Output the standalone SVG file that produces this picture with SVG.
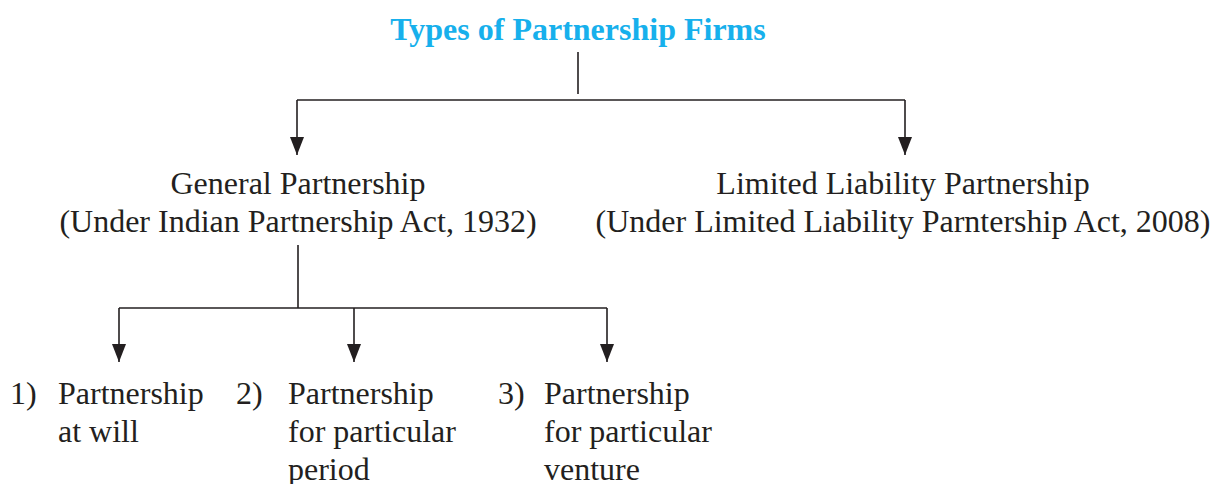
<svg xmlns="http://www.w3.org/2000/svg" width="1227" height="484" viewBox="0 0 1227 484">
<style>
.t{font-family:"Liberation Serif","Times New Roman",serif;font-size:32px;fill:#231f20}
.m{text-anchor:middle}
.title{font-family:"Liberation Serif","Times New Roman",serif;font-size:32px;font-weight:bold;fill:#17b0ec;text-anchor:middle}
.ln{stroke:#231f20;stroke-width:1.6;fill:none}
</style>
<defs>
<marker id="ah" viewBox="0 0 18 14" refX="18" refY="7" markerWidth="18" markerHeight="14" markerUnits="userSpaceOnUse" orient="auto">
<path d="M0,0 L18,7 L0,14 Z" fill="#231f20"/>
</marker>
</defs>
<rect width="1227" height="484" fill="#fff"/>
<g id="title"><text class="title" x="578" y="40">Types of Partnership Firms</text></g>
<g id="general"><text class="t m" x="298" y="194">General Partnership</text><text class="t m" x="298" y="232">(Under Indian Partnership Act, 1932)</text></g>
<g id="llp"><text class="t m" x="903" y="194">Limited Liability Partnership</text><text class="t m" x="903" y="232">(Under Limited Liability Parntership Act, 2008)</text></g>
<g id="will"><text class="t" x="10" y="404">1)</text><text class="t" x="58" y="404">Partnership</text><text class="t" x="58" y="442">at will</text></g>
<g id="period"><text class="t" x="236" y="404">2)</text><text class="t" x="288" y="404">Partnership</text><text class="t" x="288" y="442">for particular</text><text class="t" x="288" y="480">period</text></g>
<g id="venture"><text class="t" x="498" y="404">3)</text><text class="t" x="544" y="404">Partnership</text><text class="t" x="544" y="442">for particular</text><text class="t" x="544" y="480">venture</text></g>
<g id="connectors">
<path class="ln" d="M578,52 V94"/>
<path class="ln" d="M297,100 H905"/>
<path class="ln" d="M297,100 V155" marker-end="url(#ah)"/>
<path class="ln" d="M905,100 V155" marker-end="url(#ah)"/>
<path class="ln" d="M298,245 V308"/>
<path class="ln" d="M119,308 H607"/>
<path class="ln" d="M119,308 V362" marker-end="url(#ah)"/>
<path class="ln" d="M354,308 V362" marker-end="url(#ah)"/>
<path class="ln" d="M607,308 V362" marker-end="url(#ah)"/>
</g>
</svg>
